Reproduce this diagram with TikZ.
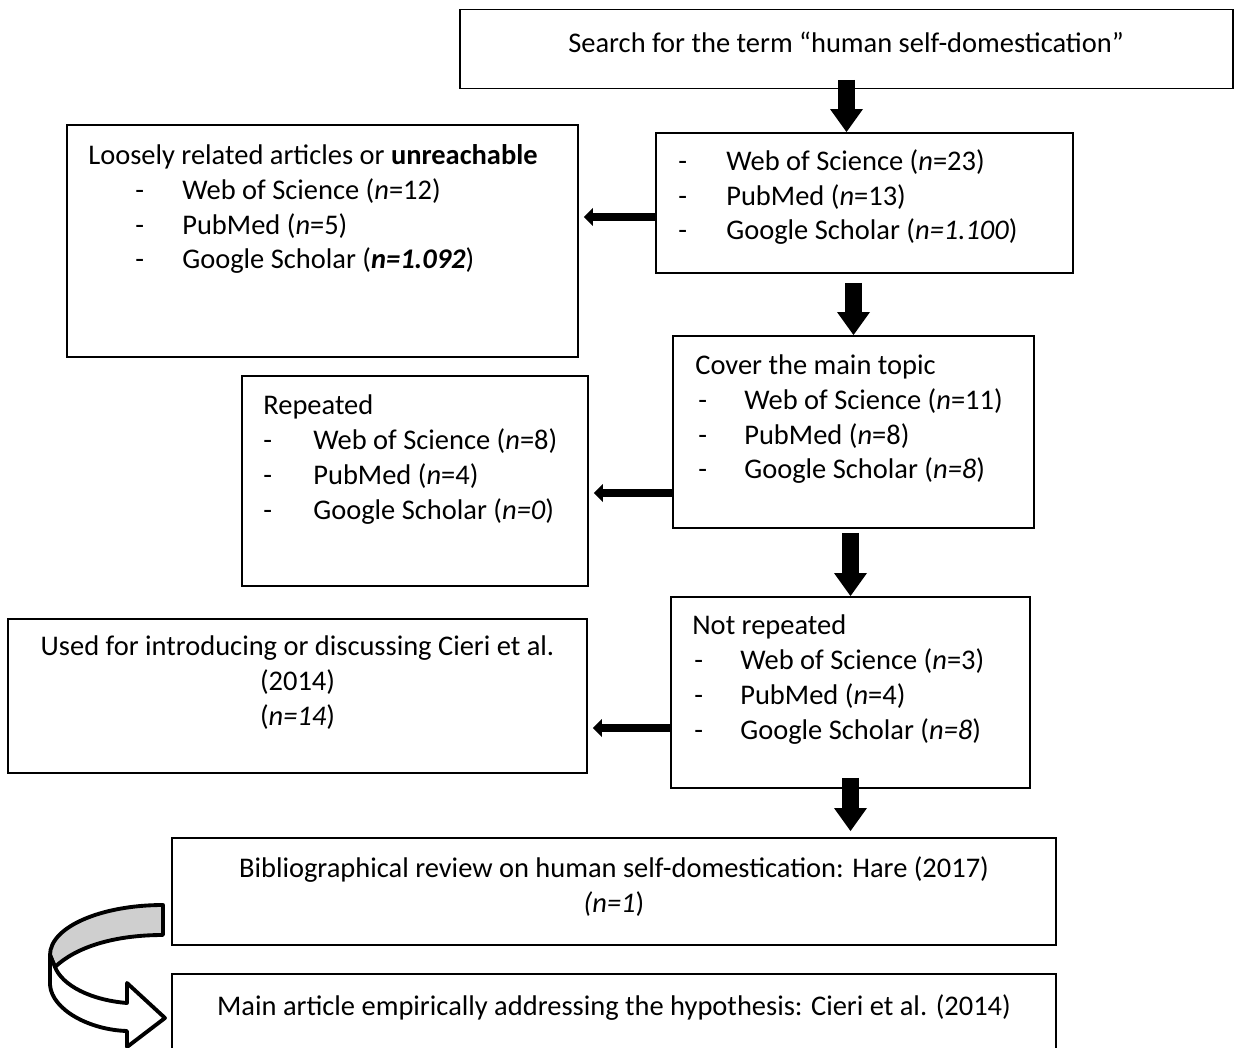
\documentclass[tikz,border=0pt]{standalone}
\usepackage{fontspec}
\setmainfont{Carlito}
\usetikzlibrary{arrows.meta,calc}
\definecolor{turnfill}{HTML}{CFCFCF}
\tikzset{
  rbox/.style={draw=black,line width=1.1pt,inner sep=0pt},
  ltext/.style={inner sep=0pt,align=left,anchor=base west},
  ctext/.style={inner sep=0pt,align=center,anchor=base},
  downarr/.style={-{Triangle[width=6.6mm,length=4.6mm,line width=0pt]},line width=3.4mm},
  sidearr/.style={-{Triangle[width=3.6mm,length=1.8mm,line width=0pt]},line width=1.5mm},
  turnarr/.style={draw=black,line width=2.2pt,line join=round}
}
\newcommand{\litem}[2]{\makebox[#1][l]{-}#2}

\begin{document}
\begin{tikzpicture}[font=\fontsize{16.2pt}{19.85pt}\selectfont]
  \useasboundingbox (0,0) rectangle (24.7,-20.96);
  % boxes
  \node[rbox,minimum width=15.46cm,minimum height=1.58cm] (search) at (16.93,-0.98) {};
  \node[rbox,minimum width=8.34cm,minimum height=2.80cm] (found) at (17.29,-4.06) {};
  \node[rbox,minimum width=10.22cm,minimum height=4.64cm] (loose) at (6.45,-4.82) {};
  \node[rbox,minimum width=7.22cm,minimum height=3.84cm] (cover) at (17.07,-8.64) {};
  \node[rbox,minimum width=6.92cm,minimum height=4.20cm] (rep) at (8.30,-9.62) {};
  \node[rbox,minimum width=7.18cm,minimum height=3.82cm] (notrep) at (17.01,-13.85) {};
  \node[rbox,minimum width=11.58cm,minimum height=3.08cm] (used) at (5.95,-13.92) {};
  \node[rbox,minimum width=17.68cm,minimum height=2.14cm] (review) at (12.28,-17.83) {};
  \node[rbox,minimum width=17.68cm,minimum height=2.52cm] (mainart) at (12.28,-20.74) {};
  % texts (base = last line)
  \node[ctext] (searchT) at (16.92,-1.06) {Search for the term “human self-domestication”};
  \node[ltext] (foundT) at (13.56,-4.80) {\litem{0.96cm}{Web of Science (\textit{n}=23)}\\
    \litem{0.96cm}{PubMed (\textit{n}=13)}\\
    \litem{0.96cm}{Google Scholar (\textit{n=1.100})}};
  \node[ltext] (looseT) at (1.76,-5.38) {Loosely related articles or \textbf{unreachable}\\
    \hspace*{0.94cm}\litem{0.94cm}{Web of Science (\textit{n}=12)}\\
    \hspace*{0.94cm}\litem{0.94cm}{PubMed (\textit{n}=5)}\\
    \hspace*{0.94cm}\litem{0.94cm}{Google Scholar (\textbf{\textit{n=1.092}})}};
  \node[ltext] (coverT) at (13.90,-9.58) {Cover the main topic\\
    \hspace*{0.06cm}\litem{0.92cm}{Web of Science (\textit{n}=11)}\\
    \hspace*{0.06cm}\litem{0.92cm}{PubMed (\textit{n}=8)}\\
    \hspace*{0.06cm}\litem{0.92cm}{Google Scholar (\textit{n=8})}};
  \node[ltext] (repT) at (5.26,-10.38) {Repeated\\
    \litem{1.0cm}{Web of Science (\textit{n}=8)}\\
    \litem{1.0cm}{PubMed (\textit{n}=4)}\\
    \litem{1.0cm}{Google Scholar (\textit{n=0})}};
  \node[ltext] (notrepT) at (13.84,-14.78) {Not repeated\\
    \hspace*{0.04cm}\litem{0.92cm}{Web of Science (\textit{n}=3)}\\
    \hspace*{0.04cm}\litem{0.92cm}{PubMed (\textit{n}=4)}\\
    \hspace*{0.04cm}\litem{0.92cm}{Google Scholar (\textit{n=8})}};
  \node[ctext] (usedT) at (5.95,-14.50) {Used for introducing or discussing Cieri et al.\\(2014)\\(\textit{n=14})};
  \node[ctext] (reviewT) at (12.28,-18.24) {Bibliographical review on human self-domestication: Hare (2017)\\\textit{(n=1})};
  \node[ctext] (mainartT) at (12.28,-20.30) {Main article empirically addressing the hypothesis: Cieri et al. (2014)};
  % block arrows
  \draw[downarr] ([yshift=1.9mm]search.south) -- (search.south |- found.north);
  \draw[downarr] ($(cover.north |- found.south)+(0,-0.18)$) -- (cover.north);
  \draw[downarr] ($(notrep.north |- cover.south)+(0,-0.08)$) -- (notrep.north);
  \draw[downarr] ([yshift=2.2mm]notrep.south) -- ($(notrep.south |- review.north)+(0,0.12)$);
  \foreach \src/\dst/\dy in {found/loose/-0.28,cover/rep/-1.22,notrep/used/-0.71}
    {\draw[sidearr] ($(\src.west)+(0,\dy)$) -- ($(\src.west -| \dst.east)+(0.1,\dy)$);}
  % curved arrow
  \filldraw[turnarr,fill=turnfill] (3.26,-18.10) .. controls (2.02,-18.10) and (1.00,-18.54) .. (1.00,-19.10)
    -- (1.10,-19.34) .. controls (1.50,-18.96) and (2.24,-18.70) .. (3.26,-18.70) -- cycle;
  \filldraw[turnarr,fill=white] (1.00,-19.10) -- (1.00,-19.70) .. controls (1.04,-20.20) and (1.80,-20.60) .. (2.54,-20.62)
    -- (2.54,-20.94) -- (3.30,-20.36) -- (2.54,-19.66) -- (2.54,-20.06)
    .. controls (1.80,-20.00) and (1.24,-19.70) .. (1.10,-19.34) -- cycle;
\end{tikzpicture}
\end{document}
